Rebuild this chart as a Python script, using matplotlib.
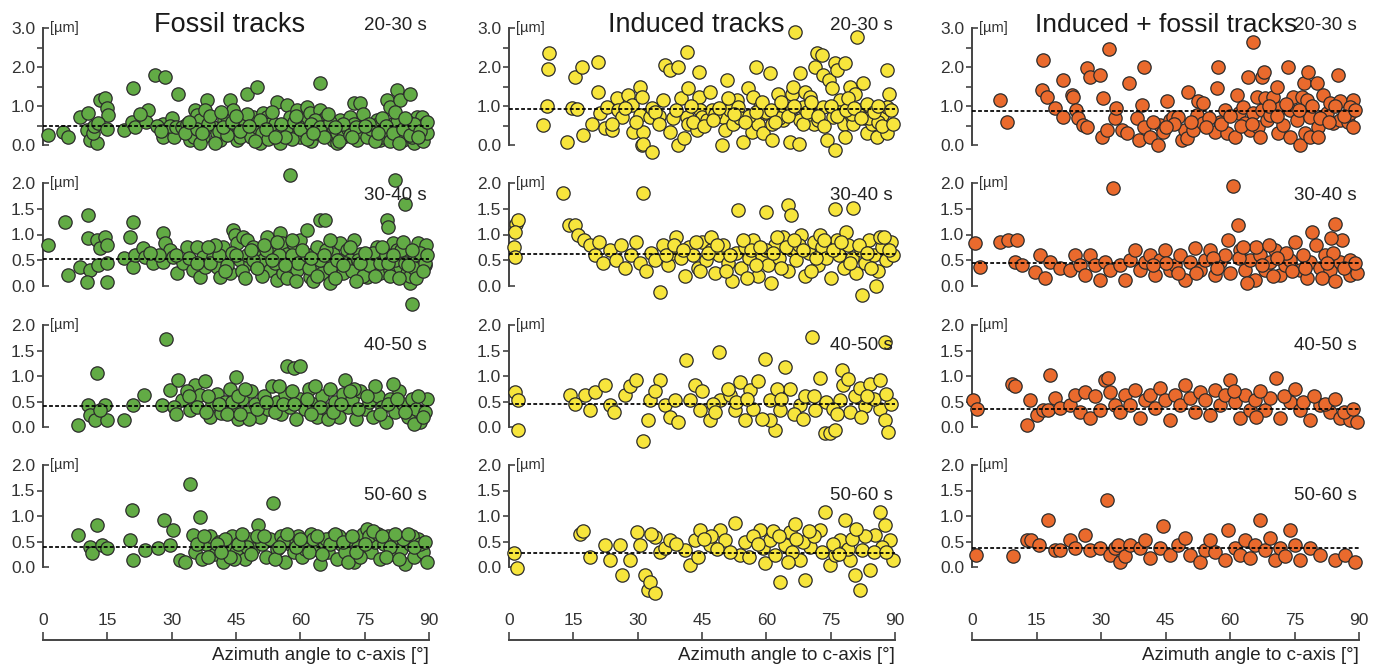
import matplotlib
matplotlib.use("Agg")
import matplotlib.pyplot as plt
from matplotlib.ticker import FixedLocator, FixedFormatter

plt.rcParams['font.family'] = ['Liberation Sans', 'DejaVu Sans']

# ---------------- data (azimuth angle [deg], etch length [um]) ----------------
fossil_2030_x = [1.2, 4.7, 5.8, 8.6, 10.6, 10.2, 11.0, 12.5, 11.7, 12.0, 13.3, 14.5, 14.9, 15.2, 12.8, 14.9, 19.0, 21.0, 20.8, 21.5,
                 23.0, 24.5, 24.0, 22.5, 26.0, 28.5, 28.0, 28.0, 30.0, 30.5, 31.5, 29.5, 26.5, 27.5, 31.0,
                 32.3, 33.5, 34.3, 35.1, 35.4, 35.8, 36.6, 38.2, 37.8, 37.4, 36.6, 39.7, 40.5, 41.3, 42.1, 42.8, 43.6, 44.4, 44.4, 45.2,
                 46.0, 47.5, 46.7, 47.9, 49.0, 49.8, 50.6, 51.4, 52.2, 53.0, 53.7, 54.5, 55.3, 56.0, 56.8, 57.6, 58.4, 59.2, 60.0, 60.7,
                 61.5, 62.3, 63.0, 64.6, 64.6, 65.0, 66.1, 66.9, 67.7, 68.5, 69.3, 70.8, 71.6, 72.4, 73.9, 73.1, 74.7, 75.5, 77.0, 77.8,
                 78.6, 79.4, 80.1, 80.9, 81.7, 82.5, 83.2, 84.0, 84.8, 85.6, 86.4, 87.1, 87.9, 87.9, 88.3,
                 33.0, 36.0, 38.5, 41.0, 43.0, 45.5, 47.0, 48.5, 50.0, 51.0, 52.5, 54.0, 55.0, 57.0, 58.0, 59.5, 61.0, 62.5, 63.5, 64.0,
                 66.0, 67.5, 68.5, 70.0, 71.0, 72.5, 74.0, 75.5, 76.5, 78.0, 79.0, 80.5, 81.0, 82.5, 83.5, 85.0, 86.0, 87.0, 88.5, 89.0, 89.5,
                 34.0, 37.0, 39.0, 40.0, 42.0, 44.0, 46.0, 47.5, 49.5, 50.5, 52.0, 53.5, 55.5, 56.5, 58.5, 60.0, 61.5, 62.5, 64.5, 65.5,
                 67.0, 69.0, 70.0, 71.5, 73.0, 74.5, 76.0, 77.5, 79.0, 80.0, 81.5, 83.0, 84.0, 85.5, 86.5, 88.0, 89.5, 41.5, 45.0, 48.0,
                 54.0, 59.0, 63.0, 66.5, 68.0, 72.0, 75.0, 78.0, 82.0, 84.5, 87.5]
fossil_2030_y = [0.26, 0.33, 0.21, 0.72, 0.82, 0.38, 0.12, 0.05, 0.30, 0.50, 1.15, 1.20, 0.95, 0.78, 0.56, 0.42, 0.38, 1.45, 0.60, 0.45,
                 0.75, 0.90, 0.60, 0.80, 1.80, 1.75, 0.55, 0.20, 0.70, 0.20, 1.30, 0.50, 0.50, 0.35, 0.45,
                 0.47, 0.55, 0.13, 0.21, 0.90, 0.77, 0.64, 1.15, 0.90, 0.21, 0.04, 0.47, 0.30, 0.13, 0.64, 0.73, 1.15, 0.90, 0.47, 0.13,
                 0.21, 1.32, 0.47, 0.38, 0.73, 1.50, 0.04, 0.81, 0.73, 0.55, 0.38, 1.10, 0.04, 0.38, 1.03, 0.73, 0.47, 0.90, 0.21, 0.64,
                 0.98, 0.81, 0.47, 1.58, 0.90, 0.64, 0.73, 0.30, 0.13, 0.04, 0.64, 0.47, 0.73, 1.07, 1.07, 0.13, 0.64, 0.47, 0.30, 0.64,
                 0.13, 0.38, 1.15, 0.98, 0.55, 1.41, 1.15, 0.13, 0.47, 1.32, 0.04, 0.73, 0.30, 0.47, 0.73,
                 0.30, 0.40, 0.55, 0.35, 0.25, 0.50, 0.60, 0.20, 0.45, 0.30, 0.15, 0.55, 0.25, 0.45, 0.15, 0.50, 0.35, 0.10, 0.65, 0.30,
                 0.50, 0.45, 0.30, 0.20, 0.40, 0.55, 0.35, 0.20, 0.40, 0.55, 0.20, 0.35, 0.10, 0.60, 0.20, 0.60, 0.20, 0.50, 0.10, 0.55, 0.30,
                 0.60, 0.30, 0.75, 0.05, 0.45, 0.60, 0.35, 0.80, 0.10, 0.65, 0.40, 0.85, 0.55, 0.20, 0.60, 0.40, 0.15, 0.55, 0.45, 0.20,
                 0.60, 0.10, 0.55, 0.25, 0.45, 0.80, 0.55, 0.10, 0.70, 0.50, 0.30, 0.05, 0.40, 0.25, 0.55, 0.35, 0.60, 0.85, 0.75, 0.50,
                 0.20, 0.75, 0.30, 0.80, 0.45, 0.20, 0.50, 0.30, 0.85, 0.70, 0.20]

fossil_3040_x = [1.2, 5.1, 5.9, 8.6, 10.5, 10.5, 11.0, 10.2, 12.5, 13.3, 14.5, 14.9, 12.9, 14.9, 14.9, 19.0, 20.3, 21.0, 21.0, 21.5,
                 23.3, 23.8, 25.7, 28.0, 28.5, 28.0, 29.6, 30.3, 31.2, 32.7, 33.6, 35.0, 35.9, 36.6, 37.3, 37.8,
                 39.7, 40.5, 41.3, 42.0, 43.6, 44.4, 44.8, 45.2, 46.0, 46.7, 47.5, 48.3, 49.0, 49.8, 50.6, 51.4, 52.2, 53.0, 53.7, 54.5,
                 55.3, 55.7, 56.0, 56.8, 57.6, 57.6, 58.4, 59.2, 60.0, 60.7, 61.5, 62.3, 63.0, 63.4, 63.8, 64.6, 65.8, 65.0, 66.1, 66.9,
                 67.7, 68.5, 69.3, 70.0, 70.8, 71.6, 72.4, 73.1, 73.9, 75.5, 76.2, 77.0, 77.8, 78.6, 79.4, 80.1, 80.5, 80.9, 81.7, 82.1,
                 82.5, 83.2, 84.0, 84.4, 84.8, 85.6, 86.0, 86.4, 87.1, 87.5, 87.9, 89.2, 89.0,
                 39.0, 41.0, 43.0, 44.0, 46.5, 47.5, 49.0, 51.0, 52.0, 54.0, 55.0, 57.0, 58.0, 59.5, 61.5, 62.0, 63.0, 64.5, 66.0, 67.0,
                 68.0, 69.0, 70.5, 72.0, 73.5, 74.5, 76.0, 77.0, 78.5, 80.0, 81.0, 82.0, 83.5, 84.5, 85.5, 86.5, 88.0, 89.0,
                 40.0, 42.5, 45.0, 47.0, 48.5, 50.0, 51.5, 53.5, 54.5, 56.5, 58.0, 59.0, 60.5, 62.5, 64.0, 65.5, 67.0, 68.5, 70.0, 71.5,
                 73.0, 74.0, 75.0, 77.5, 79.0, 80.5, 81.5, 83.0, 84.0, 85.0, 86.0, 87.0, 88.5, 89.5, 31.0, 34.0, 36.0, 38.5, 27.0, 25.0]
fossil_3040_y = [0.80, 1.24, 0.21, 0.37, 1.38, 0.93, 0.31, 0.08, 0.89, 0.74, 0.95, 0.80, 0.41, 0.45, 0.08, 0.54, 0.95, 1.24, 0.37, 0.60,
                 0.74, 0.56, 0.45, 1.03, 0.84, 0.47, 0.70, 0.56, 0.25, 0.45, 0.76, 0.31, 0.76, 0.17, 0.56, 0.37,
                 0.57, 0.37, 0.18, 0.76, 0.25, 1.09, 0.99, 0.83, 0.50, 0.96, 0.89, 0.44, 0.76, 0.37, 0.57, 0.50, 0.96, 0.31, 0.63, 0.12,
                 1.02, 0.83, 0.25, 0.63, 0.37, 2.16, 0.83, 0.31, 0.89, 0.50, 1.09, 0.18, 0.63, 0.37, 0.76, 1.28, 1.28, 0.25, 0.50, 0.05,
                 0.63, 0.37, 0.83, 0.25, 0.70, 0.50, 0.89, 0.31, 0.63, 0.18, 0.57, 0.50, 0.76, 0.25, 0.57, 1.28, 1.15, 0.31, 0.83, 2.06,
                 0.70, 0.37, 0.63, 1.60, 0.25, 0.05, -0.34, 0.63, 0.50, 0.83, 0.37, 0.80, 0.40,
                 0.45, 0.60, 0.40, 0.65, 0.30, 0.60, 0.50, 0.20, 0.70, 0.45, 0.60, 0.15, 0.60, 0.45, 0.60, 0.35, 0.10, 0.50, 0.70, 0.35,
                 0.15, 0.50, 0.45, 0.30, 0.50, 0.20, 0.40, 0.65, 0.45, 0.60, 0.20, 0.50, 0.70, 0.45, 0.20, 0.35, 0.65, 0.45,
                 0.80, 0.30, 0.60, 0.15, 0.70, 0.35, 0.80, 0.50, 0.85, 0.40, 0.90, 0.10, 0.70, 0.55, 0.20, 0.60, 0.90, 0.50, 0.40, 0.75,
                 0.10, 0.45, 0.65, 0.20, 0.75, 0.45, 0.60, 0.15, 0.85, 0.40, 0.70, 0.15, 0.30, 0.60, 0.60, 0.55, 0.45, 0.75, 0.60, 0.65]

fossil_4050_x = [8.2, 10.5, 12.6, 10.9, 12.1, 14.4, 14.9, 13.3, 18.9, 21.0, 23.5, 28.7,
                 27.8, 29.6, 31.5, 32.4, 34.3, 35.5, 36.6, 37.8, 39.0, 39.5, 40.5, 41.5, 42.5, 43.5, 44.5, 45.0, 45.5, 46.5,
                 47.5, 48.5, 49.5, 50.5, 51.5, 52.5, 53.5, 54.5, 55.5, 56.5, 57.0, 57.5, 58.5, 59.0, 60.0, 60.0, 61.0, 62.0, 63.0, 64.0,
                 65.0, 66.0, 67.0, 68.0, 69.0, 70.0, 70.5, 71.0, 72.0, 73.0, 74.0, 75.0, 76.0, 77.0, 78.0, 79.0, 80.0, 81.0, 82.0, 83.0,
                 84.0, 85.0, 86.0, 87.0, 88.0, 89.0, 89.5, 30.5, 33.5, 38.5, 44.0, 48.0, 55.0, 58.0, 63.5, 66.5, 72.5, 77.5, 81.5, 86.5,
                 31.0, 34.0, 36.0, 38.0, 41.0, 43.0, 45.5, 47.0, 50.0, 52.0, 54.0, 56.0, 58.5, 61.5, 64.5, 67.5, 69.5, 71.5, 73.5, 75.5,
                 78.5, 80.5, 82.5, 84.5, 87.5, 88.5, 46.0, 62.5]
fossil_4050_y = [0.04, 0.43, 1.05, 0.23, 0.14, 0.43, 0.14, 0.33, 0.14, 0.43, 0.63, 1.72,
                 0.43, 0.72, 0.92, 0.53, 0.33, 0.82, 0.63, 0.90, 0.20, 0.45, 0.65, 0.28, 0.50, 0.75, 0.35, 0.98, 0.15, 0.55,
                 0.30, 0.70, 0.45, 0.20, 0.60, 0.35, 0.80, 0.50, 0.25, 0.65, 1.20, 0.40, 1.15, 0.15, 1.20, 0.55, 0.35, 0.75, 0.45, 0.20,
                 0.60, 0.35, 0.75, 0.50, 0.20, 0.65, 0.92, 0.40, 0.55, 0.15, 0.70, 0.35, 0.50, 0.20, 0.60, 0.40, 0.10, 0.55, 0.30, 0.70,
                 0.45, 0.20, 0.55, 0.35, 0.10, 0.30, 0.55, 0.40, 0.70, 0.60, 0.50, 0.15, 0.80, 0.70, 0.80, 0.15, 0.75, 0.80, 0.85, 0.05,
                 0.25, 0.60, 0.40, 0.30, 0.45, 0.25, 0.60, 0.75, 0.35, 0.50, 0.30, 0.45, 0.45, 0.55, 0.40, 0.30, 0.45, 0.70, 0.35, 0.60,
                 0.25, 0.45, 0.55, 0.30, 0.60, 0.20, 0.25, 0.25]

fossil_5060_x = [8.2, 10.9, 11.4, 12.6, 13.8, 15.0, 20.8, 20.3, 21.0, 23.8, 26.8, 28.2, 29.6, 30.3, 31.9, 33.0, 34.3, 35.0, 36.6, 35.5,
                 37.0, 38.0, 39.0, 40.0, 41.0, 42.0, 43.0, 44.0, 45.0, 46.0, 47.0, 48.0, 49.0, 50.1, 51.0, 52.0, 53.6, 53.0, 54.5, 55.5,
                 56.5, 57.5, 58.5, 59.5, 60.5, 61.5, 62.5, 63.5, 64.5, 65.5, 66.5, 67.5, 68.5, 69.5, 70.5, 71.5, 72.5, 73.5, 74.5, 75.5,
                 76.5, 77.5, 78.5, 79.5, 80.5, 81.5, 82.5, 83.5, 84.5, 85.5, 86.5, 87.5, 88.5, 89.5, 38.5, 44.5, 50.0, 56.0, 61.0, 66.0,
                 71.0, 76.0, 81.0, 86.0, 36.0, 42.5, 47.5, 63.0, 69.0, 74.0, 78.0, 84.0, 88.0,
                 37.5, 40.5, 43.5, 45.5, 48.5, 51.5, 54.0, 57.0, 59.0, 62.0, 64.0, 67.0, 68.0, 70.0, 72.0, 73.0, 75.0, 77.0, 79.0, 80.0,
                 82.0, 83.0, 85.0, 86.5, 89.0, 60.0, 65.0, 55.0, 46.5, 41.5]
fossil_5060_y = [0.63, 0.39, 0.27, 0.82, 0.43, 0.37, 1.12, 0.53, 0.14, 0.33, 0.37, 0.92, 0.43, 0.73, 0.14, 0.10, 1.63, 0.63, 0.98, 0.30,
                 0.15, 0.45, 0.60, 0.25, 0.50, 0.10, 0.40, 0.60, 0.30, 0.50, 0.15, 0.55, 0.35, 0.82, 0.45, 0.20, 1.25, 0.55, 0.35, 0.60,
                 0.10, 0.45, 0.30, 0.60, 0.20, 0.50, 0.65, 0.35, 0.05, 0.50, 0.30, 0.60, 0.15, 0.45, 0.30, 0.55, 0.10, 0.40, 0.65, 0.75,
                 0.30, 0.50, 0.15, 0.45, 0.60, 0.25, 0.50, 0.35, 0.05, 0.45, 0.20, 0.55, 0.30, 0.10, 0.20, 0.15, 0.60, 0.50, 0.35, 0.55,
                 0.10, 0.60, 0.40, 0.60, 0.45, 0.55, 0.40, 0.55, 0.60, 0.20, 0.65, 0.55, 0.45,
                 0.60, 0.45, 0.20, 0.45, 0.25, 0.60, 0.15, 0.65, 0.40, 0.30, 0.60, 0.45, 0.65, 0.50, 0.60, 0.30, 0.45, 0.70, 0.60, 0.20,
                 0.65, 0.15, 0.65, 0.40, 0.50, 0.55, 0.25, 0.40, 0.65, 0.30]

induced_2030_x = [7.9, 9.3, 9.2, 8.9, 13.5, 14.6, 15.9, 15.4, 17.0, 17.3, 19.3, 20.7, 20.7, 21.2, 22.4, 22.8, 23.9, 25.1, 25.5, 26.3,
                  27.8, 28.6, 29.0, 30.6, 30.9, 30.6, 31.3, 30.9, 31.3, 33.3, 32.9, 33.3, 36.0, 36.4, 37.5, 39.5, 37.5, 38.3, 39.5, 40.7,
                  40.0, 41.4, 41.8, 41.4, 41.8, 43.8, 44.2, 44.5, 44.2, 44.9, 46.1, 46.9, 47.3, 49.6, 50.0, 50.4, 50.8, 50.8, 51.5, 52.3,
                  53.1, 53.5, 53.9, 54.6, 55.8, 56.6, 57.0, 57.6, 58.1, 58.5, 59.3, 59.7, 60.9, 61.3, 61.3, 62.4, 62.8, 64.0, 64.4, 65.5,
                  65.9, 66.3, 66.8, 67.5, 67.9, 67.9, 68.6, 69.0, 70.2, 71.0, 71.4, 71.8, 72.9, 73.3, 73.3, 74.1, 74.5, 75.2, 75.6, 76.0,
                  76.0, 76.4, 77.2, 78.0, 78.4, 78.4, 79.5, 79.9, 80.3, 80.7, 81.2, 81.5, 82.6, 83.0, 83.4, 84.2, 84.6, 85.7, 86.9, 88.1,
                  88.5, 88.1, 88.1, 48.0, 56.0, 60.0, 63.0, 66.0, 70.0, 72.0, 77.0, 80.0, 84.0, 86.0, 35.0, 43.0,
                  24.0, 27.0, 29.5, 34.0, 35.0, 39.0, 42.5, 45.5, 47.5, 49.0, 51.0, 52.5, 55.0, 57.5, 59.0, 61.0, 62.0, 63.5, 65.0, 66.5,
                  68.5, 69.5, 70.5, 72.0, 73.5, 75.0, 76.5, 78.5, 79.0, 80.5, 82.0, 83.5, 85.0, 86.0, 87.0, 89.0, 89.5]
induced_2030_y = [0.51, 2.37, 1.94, 1.00, 0.08, 0.96, 0.93, 1.75, 2.00, 0.26, 0.55, 2.14, 1.37, 0.81, 0.43, 0.98, 0.39, 1.20, 0.90, 0.73,
                  1.28, 1.03, 0.33, 1.49, 1.24, 0.76, 0.33, 0.00, 0.03, -0.17, 0.73, 0.94, 1.15, 2.05, 1.92, 2.00, 0.33, 0.68, 0.00, 0.17,
                  1.20, 2.39, 1.45, 0.73, 0.55, 0.39, 1.24, 0.90, 1.88, 0.73, 0.64, 1.37, 0.90, 0.00, 0.73, 0.39, 1.66, 0.98, 0.90, 0.55,
                  1.15, 0.98, 0.68, 0.08, 1.45, 0.33, 1.24, 2.00, 0.55, 0.98, 0.30, 0.81, 1.84, 0.12, 0.55, 0.90, 1.32, 0.64, 0.94, 0.08,
                  1.32, 1.49, 2.90, 0.03, 0.64, 1.84, 0.98, 1.37, 1.24, 0.55, 2.00, 2.35, 2.30, 0.98, 1.79, 0.12, 1.66, 1.45, 0.73, -0.14,
                  2.10, 1.92, 1.15, 0.55, 2.10, 0.21, 1.49, 0.73, 0.55, 1.32, 2.78, 0.90, 1.58, 0.68, 0.30, 0.98, 0.55, 0.21, 0.76, 1.92,
                  1.32, 0.30, 0.98, 0.80, 0.75, 0.85, 0.70, 0.95, 0.80, 0.65, 0.85, 0.80, 0.70, 0.60, 0.75, 0.60,
                  0.55, 0.95, 0.60, 0.85, 0.55, 0.90, 1.00, 0.50, 0.65, 0.95, 1.20, 0.80, 0.60, 0.85, 1.10, 0.90, 0.60, 1.10, 0.75, 1.00,
                  0.55, 0.85, 1.10, 0.75, 0.50, 1.00, 0.75, 0.90, 1.20, 0.95, 0.70, 1.05, 0.85, 1.00, 0.50, 0.90, 0.55]

induced_3040_x = [1.6, 2.2, 1.4, 1.2, 1.4, 12.6, 14.0, 15.5, 16.0, 17.5, 19.0, 20.0, 21.0, 22.0, 23.5, 25.0, 26.0, 27.0, 28.5, 29.5,
                  30.5, 31.2, 32.0, 33.0, 34.0, 35.2, 36.0, 37.0, 38.0, 39.0, 40.0, 41.0, 42.0, 43.0, 44.0, 45.0, 46.0, 47.0, 48.0, 49.0,
                  50.0, 51.0, 52.0, 53.4, 53.0, 54.0, 55.0, 56.0, 57.0, 58.0, 59.0, 59.9, 60.5, 61.0, 62.0, 63.0, 64.0, 65.1, 65.8, 65.0,
                  66.0, 67.0, 68.0, 69.0, 70.0, 71.0, 72.0, 73.0, 74.0, 75.0, 76.0, 76.5, 77.0, 78.0, 79.0, 80.2, 80.0, 81.0, 82.0, 82.3,
                  83.0, 84.0, 85.0, 86.0, 87.0, 88.0, 89.0, 89.5, 44.5, 57.5, 62.5, 67.5, 72.5, 78.5, 85.5, 60.0, 47.0, 36.5, 50.5, 55.5,
                  70.5, 86.5,
                  38.5, 40.5, 43.5, 46.5, 48.5, 51.5, 54.5, 56.5, 58.5, 61.5, 63.5, 64.5, 66.5, 68.5, 71.5, 73.5, 75.5, 77.5, 79.5, 81.5,
                  83.5, 84.5, 87.5, 88.5]
induced_3040_y = [1.20, 1.28, 1.05, 0.75, 0.56, 1.80, 1.18, 1.18, 1.00, 0.90, 0.80, 0.60, 0.85, 0.45, 0.70, 0.50, 0.80, 0.35, 0.60, 0.85,
                  0.45, 1.80, 0.30, 0.65, 0.50, -0.12, 0.80, 0.40, 0.65, 0.95, 0.55, 0.20, 0.75, 0.60, 0.35, 0.85, 0.50, 0.70, 0.25, 0.60,
                  0.80, 0.45, 0.10, 1.48, 0.65, 0.35, 0.75, 0.55, 0.90, 0.20, 0.60, 1.44, 0.40, 0.05, 0.80, 0.55, 0.95, 1.57, 1.38, 0.30,
                  0.70, 0.50, 1.00, 0.20, 0.65, 0.85, 0.40, 0.75, 0.55, 0.15, 1.50, 0.90, 0.60, 0.35, 0.80, 1.52, 0.55, 0.25, 0.70, -0.17,
                  0.45, 0.90, 0.60, 0.30, 0.75, 0.50, 0.85, 0.60, 0.30, 0.40, 0.95, 0.80, 1.00, 1.05, 0.00, 0.70, 0.95, 0.60, 0.30, 0.15,
                  0.30, 0.95,
                  0.80, 0.70, 0.85, 0.65, 0.80, 0.60, 0.90, 0.70, 0.75, 0.65, 0.35, 0.75, 0.90, 0.70, 0.55, 0.90, 0.70, 0.85, 0.45, 0.80,
                  0.65, 0.35, 0.95, 0.70]

induced_4050_x = [1.4, 2.1, 2.1, 14.2, 15.4, 17.7, 18.9, 20.1, 22.4, 23.6, 27.1, 28.2, 29.6, 31.2, 32.4, 32.9, 35.2, 36.4, 37.5, 38.7,
                  41.3, 42.2, 43.4, 44.5, 46.9, 49.0, 49.2, 51.5, 52.7, 53.9, 55.0, 56.2, 59.7, 60.9, 62.0, 63.2, 64.4, 60.9, 65.5, 67.9,
                  70.7, 71.4, 72.5, 73.7, 74.9, 76.0, 77.2, 77.7, 77.9, 79.5, 80.7, 81.9, 83.0, 84.2, 86.5, 87.7, 86.5, 87.7, 88.4,
                  45.0, 47.5, 53.0, 57.0, 58.0, 62.5, 66.5, 69.0, 74.0, 75.5, 79.0, 82.0, 85.0, 89.0, 24.5, 39.5, 34.0,
                  48.0, 51.0, 55.5, 59.0, 63.5, 68.5, 71.0, 76.5, 83.5, 88.0]
induced_4050_y = [0.69, 0.53, -0.06, 0.63, 0.45, 0.63, 0.33, 0.69, 0.82, 0.43, 0.63, 0.80, 0.92, -0.27, 0.14, 0.53, 0.92, 0.43, 0.20, 0.53,
                  1.31, 0.53, 0.82, 0.33, 0.14, 1.47, 0.53, 0.63, 0.33, 0.88, 0.14, 0.73, 1.33, 0.53, -0.06, 0.33, 1.18, 0.14, 0.75, 0.43,
                  1.76, 0.33, 0.96, -0.12, -0.12, -0.06, 0.53, 1.12, 0.82, 0.29, 0.61, 0.76, 0.41, 0.84, 0.35, 1.67, 0.92, 0.14, -0.10,
                  0.70, 0.45, 0.50, 0.35, 0.90, 0.75, 0.25, 0.60, 0.50, 0.35, 0.95, 0.20, 0.55, 0.45, 0.30, 0.10, 0.70,
                  0.30, 0.75, 0.55, 0.15, 0.55, 0.15, 0.60, 0.25, 0.60, 0.65]

induced_5060_x = [1.2, 1.9, 16.6, 17.3, 18.9, 22.4, 23.6, 25.9, 26.4, 28.2, 29.8, 30.5, 31.7, 32.4, 32.9, 34.0, 34.0, 35.2, 36.4, 37.5,
                  41.0, 42.2, 43.4, 44.5, 46.9, 49.2, 50.4, 52.7, 53.9, 58.5, 59.2, 59.7, 60.9, 62.0, 63.2, 64.4, 65.5, 66.7, 67.9, 69.0,
                  70.2, 72.5, 73.7, 74.9, 76.0, 77.2, 78.4, 79.5, 80.7, 81.9, 82.3, 84.2, 85.3, 86.5, 87.7, 88.8, 89.5,
                  44.0, 47.0, 55.0, 57.0, 61.5, 66.0, 68.5, 71.0, 75.5, 79.0, 83.0, 87.0, 39.0, 33.0,
                  45.5, 48.5, 51.5, 56.0, 58.0, 63.0, 65.0, 67.0, 70.0, 73.0, 77.0, 80.0, 81.0, 85.0, 88.0]
induced_5060_y = [0.27, -0.02, 0.65, 0.71, 0.20, 0.43, 0.14, 0.43, -0.16, 0.14, 0.69, 0.43, -0.16, -0.45, -0.29, -0.51, 0.59, 0.29, 0.37, 0.53,
                  0.33, 0.04, 0.53, 0.73, 0.43, 0.73, 0.53, 0.86, 0.24, 0.73, 0.37, 0.08, 0.53, 0.24, -0.29, 0.43, 0.69, 0.84, 0.14, -0.25,
                  0.39, 0.73, 1.08, 0.04, 0.24, 0.53, 0.92, 0.14, -0.16, -0.45, 0.33, -0.06, 0.63, 1.08, 0.82, 0.53, 0.14,
                  0.20, 0.60, 0.50, 0.60, 0.70, 0.30, 0.50, 0.60, 0.45, 0.35, 0.60, 0.40, 0.45, 0.65,
                  0.55, 0.35, 0.30, 0.20, 0.45, 0.60, 0.10, 0.55, 0.70, 0.30, 0.25, 0.55, 0.75, 0.30, 0.30]

both_2030_x = [6.4, 8.1, 16.6, 16.2, 17.4, 19.3, 21.2, 21.1, 23.2, 23.6, 24.3, 24.7, 25.9, 26.7, 26.7, 27.4, 29.8, 30.5, 30.2, 31.3,
               31.9, 33.3, 33.6, 34.8, 36.0, 36.5, 38.3, 38.9, 39.5, 39.9, 39.9, 41.4, 43.3, 43.7, 44.5, 45.3, 46.0, 46.8, 48.0, 48.8,
               49.5, 49.9, 50.3, 51.5, 52.3, 52.6, 53.8, 53.8, 56.5, 56.9, 57.3, 57.7, 58.8, 59.2, 61.2, 61.6, 62.0, 63.1, 63.5, 64.3,
               64.7, 65.4, 65.4, 66.2, 66.6, 67.0, 67.4, 67.4, 67.8, 68.2, 68.5, 69.3, 70.1, 70.9, 71.2, 71.6, 72.4, 73.6, 74.0, 74.0,
               74.7, 75.5, 76.3, 76.7, 77.1, 77.4, 77.8, 78.2, 78.6, 78.6, 80.2, 80.5, 80.5, 81.7, 82.5, 83.3, 84.0, 85.2, 85.6, 85.6,
               87.5, 87.9, 88.7, 88.7, 87.9,
               42.0, 47.0, 51.0, 55.0, 58.0, 60.0, 62.5, 65.0, 69.0, 71.0, 73.0, 76.0, 79.0, 81.0, 83.0, 84.5, 86.5, 89.0, 54.5, 45.0]
both_2030_y = [1.15, 0.60, 2.18, 1.41, 1.24, 0.94, 1.67, 0.73, 1.28, 1.24, 0.90, 0.68, 0.51, 0.47, 1.97, 1.75, 1.79, 1.20, 0.20, 0.38,
               2.46, 0.68, 0.94, 0.38, 0.30, 1.58, 0.68, 0.13, 1.03, 2.00, 0.47, 0.21, 0.00, 0.51, 0.34, 1.12, 0.64, 0.73, 0.73, 0.13,
               0.38, 0.17, 1.37, 0.38, 0.77, 1.12, 1.07, 0.56, 0.34, 1.45, 2.00, 0.60, 0.90, 0.30, 0.21, 1.28, 0.81, 0.98, 0.56, 1.75,
               0.38, 0.81, 2.65, 1.24, 0.47, 0.21, 1.75, 0.90, 1.88, 1.20, 0.64, 0.77, 1.24, 1.50, 0.30, 0.94, 0.51, 2.00, 0.90, 0.21,
               1.24, 0.64, 0.00, 1.24, 1.58, 0.30, 1.15, 1.88, 0.73, 0.21, 1.58, 0.47, 0.21, 1.28, 0.81, 1.07, 0.56, 1.79, 1.12, 0.64,
               0.60, 0.81, 1.15, 0.47, 0.98,
               0.60, 0.55, 0.60, 0.70, 0.55, 0.75, 0.50, 0.55, 1.00, 0.75, 1.05, 0.90, 1.00, 0.70, 0.60, 1.00, 0.75, 0.90, 0.45, 0.45]

both_3040_x = [0.8, 1.9, 6.5, 8.4, 10.5, 10.0, 11.6, 14.7, 15.8, 17.0, 18.1, 20.5, 22.8, 24.0, 25.1, 26.3, 27.4, 28.6, 29.8, 30.9,
               32.1, 32.8, 34.4, 35.6, 36.8, 37.9, 39.1, 40.2, 41.4, 42.6, 43.7, 44.9, 46.1, 47.2, 48.4, 49.5, 50.7, 51.9, 53.0, 54.2,
               55.4, 56.5, 57.7, 58.8, 59.5, 60.7, 61.9, 62.3, 63.5, 64.7, 65.8, 67.0, 68.2, 69.3, 70.5, 71.6, 72.8, 74.0, 76.3, 78.6,
               80.9, 83.3, 85.6, 87.9, 66.0, 69.0, 73.0, 75.0, 77.0, 79.0, 80.0, 82.0, 84.0, 86.0, 88.0, 89.5, 70.0, 78.0, 81.5, 84.5,
               62.0, 64.0, 52.0, 45.0, 56.0,
               57.0, 60.0, 63.0, 67.5, 71.0, 74.5, 77.5, 82.5, 84.4, 83.5, 86.5, 89.0, 48.0, 42.0]
both_3040_y = [0.83, 0.37, 0.85, 0.89, 0.89, 0.47, 0.41, 0.27, 0.60, 0.16, 0.47, 0.35, 0.31, 0.60, 0.41, 0.21, 0.60, 0.41, 0.12, 0.47,
               0.31, 1.90, 0.41, 0.12, 0.50, 0.70, 0.31, 0.47, 0.60, 0.21, 0.50, 0.70, 0.31, 0.41, 0.60, 0.12, 0.47, 0.74, 0.31, 0.50,
               0.70, 0.21, 0.47, 0.60, 0.89, 1.94, 1.18, 0.70, 0.31, 0.50, 0.12, 0.60, 0.31, 0.47, 0.70, 0.21, 0.41, 0.50, 0.31, 0.47,
               0.35, 0.31, 0.47, 0.21, 0.75, 0.80, 0.65, 0.85, 0.60, 1.05, 0.80, 0.60, 0.65, 0.90, 0.50, 0.25, 0.20, 0.15, 0.15, 0.10,
               0.55, 0.05, 0.25, 0.45, 0.55,
               0.35, 0.25, 0.75, 0.40, 0.55, 0.30, 0.35, 0.45, 1.20, 0.93, 0.35, 0.45, 0.25, 0.40]

both_4050_x = [0.3, 1.2, 9.3, 10.0, 12.8, 13.5, 15.1, 16.5, 17.7, 18.1, 19.3, 20.5, 22.8, 24.0, 25.1, 26.3, 27.4, 28.6, 29.8, 30.9,
               31.6, 32.1, 33.3, 34.4, 35.6, 36.8, 37.9, 39.1, 40.2, 41.4, 42.6, 43.7, 44.9, 46.1, 47.2, 48.4, 49.5, 50.7, 51.9, 53.0,
               54.2, 55.4, 56.5, 57.7, 58.8, 60.0, 61.2, 62.3, 63.5, 64.7, 65.8, 68.2, 69.3, 70.7, 71.6, 74.0, 76.3, 78.6, 80.9, 83.3,
               85.6, 87.9, 67.0, 72.5, 75.0, 77.0, 79.5, 82.0, 84.5, 86.5, 88.5, 89.5, 66.0, 61.0]
both_4050_y = [0.53, 0.35, 0.84, 0.80, 0.04, 0.53, 0.24, 0.33, 0.33, 1.02, 0.57, 0.37, 0.43, 0.63, 0.29, 0.69, 0.18, 0.61, 0.33, 0.92,
               0.96, 0.69, 0.43, 0.29, 0.63, 0.43, 0.73, 0.18, 0.53, 0.63, 0.37, 0.76, 0.53, 0.14, 0.63, 0.43, 0.82, 0.57, 0.29, 0.69,
               0.53, 0.24, 0.73, 0.43, 0.63, 0.92, 0.49, 0.18, 0.63, 0.33, 0.53, 0.33, 0.57, 0.96, 0.18, 0.49, 0.33, 0.14, 0.43, 0.29,
               0.18, 0.14, 0.70, 0.60, 0.75, 0.50, 0.60, 0.45, 0.55, 0.30, 0.35, 0.10, 0.20, 0.70]

both_5060_x = [1.0, 9.5, 12.8, 13.7, 15.6, 17.7, 19.3, 20.5, 22.8, 24.0, 26.3, 27.4, 29.8, 31.4, 32.1, 33.3, 34.0, 34.4, 35.6, 36.8,
               39.1, 40.2, 41.4, 43.7, 44.4, 46.1, 47.9, 49.5, 50.7, 53.0, 54.2, 55.4, 56.5, 58.8, 59.5, 61.2, 62.3, 63.5, 64.7, 65.8,
               67.0, 68.2, 69.3, 70.5, 71.6, 72.8, 74.0, 75.1, 76.3, 78.6, 80.9, 84.4, 86.8, 89.1]
both_5060_y = [0.24, 0.22, 0.53, 0.53, 0.43, 0.92, 0.33, 0.33, 0.53, 0.37, 0.63, 0.33, 0.37, 1.31, 0.24, 0.37, 0.43, 0.10, 0.22, 0.43,
               0.37, 0.53, 0.18, 0.37, 0.80, 0.24, 0.43, 0.57, 0.24, 0.10, 0.33, 0.53, 0.29, 0.14, 0.73, 0.37, 0.24, 0.53, 0.18, 0.43,
               0.92, 0.33, 0.57, 0.14, 0.37, 0.22, 0.73, 0.43, 0.14, 0.37, 0.24, 0.14, 0.24, 0.10]

# mean values (dotted lines)
fossil_means = [0.48, 0.52, 0.42, 0.40]
induced_means = [0.92, 0.63, 0.45, 0.28]
both_means = [0.86, 0.45, 0.35, 0.38]

column_titles = ["Fossil tracks", "Induced tracks", "Induced + fossil tracks"]
row_labels = ["20-30 s", "30-40 s", "40-50 s", "50-60 s"]
x_ticks = [0, 15, 30, 45, 60, 75, 90]
x_label = "Azimuth angle to c-axis [°]"
unit_label = "[µm]"

fossil_x = [fossil_2030_x, fossil_3040_x, fossil_4050_x, fossil_5060_x]
fossil_y = [fossil_2030_y, fossil_3040_y, fossil_4050_y, fossil_5060_y]
induced_x = [induced_2030_x, induced_3040_x, induced_4050_x, induced_5060_x]
induced_y = [induced_2030_y, induced_3040_y, induced_4050_y, induced_5060_y]
both_x = [both_2030_x, both_3040_x, both_4050_x, both_5060_x]
both_y = [both_2030_y, both_3040_y, both_4050_y, both_5060_y]

# ---------------- layout ----------------
W, H = 1377, 666
fig = plt.figure(figsize=(W / 100, H / 100), dpi=100)

col_px = [(43, 429), (509, 895), (972, 1359)]          # pixel x of 0 deg and 90 deg
row_px = [(28, 145, 3.0), (183, 286, 2.0), (325, 427, 2.0), (465, 567, 2.0)]  # top, zero, ymax
colors = ["#62ab45", "#f7e53c", "#ea6a2d"]
edge = "#2b2b2b"
axis_col = "#444444"
title_fs = [19.5, 19.5, 19.0]
title_cx = [230, 696, 1166]

columns = [(fossil_x, fossil_y, fossil_means), (induced_x, induced_y, induced_means), (both_x, both_y, both_means)]

for c, (xs, ys, means) in enumerate(columns):
    x0, x90 = col_px[c]
    for r in range(4):
        top, zero, ymax = row_px[r]
        ax = fig.add_axes([x0 / W, 1 - zero / H, (x90 - x0) / W, (zero - top) / H])
        ax.set_xlim(0, 90)
        ax.set_ylim(0, ymax)
        ax.patch.set_alpha(0)
        for s in ["top", "right", "bottom"]:
            ax.spines[s].set_visible(False)
        ax.spines["left"].set_color(axis_col)
        ax.spines["left"].set_linewidth(1.4)
        ax.set_xticks([])
        if ymax == 3.0:
            mids = [0.5, 1.0, 1.5, 2.0, 2.5]
            mid_lab = ["", "1.0", "", "2.0", ""]
        else:
            mids = [0.5, 1.0, 1.5]
            mid_lab = ["0.5", "1.0", "1.5"]
        ax.yaxis.set_major_locator(FixedLocator(mids))
        ax.yaxis.set_major_formatter(FixedFormatter(mid_lab))
        ax.yaxis.set_minor_locator(FixedLocator([0.0, ymax]))
        ax.yaxis.set_minor_formatter(FixedFormatter(["0.0", "%.1f" % ymax]))
        ax.tick_params(axis="y", which="major", direction="out", length=4.5, width=1.2,
                       color=axis_col, labelsize=12.5, labelcolor="#333333", pad=1)
        ax.tick_params(axis="y", which="minor", direction="in", length=4.5, width=1.2,
                       color=axis_col, labelsize=12.5, labelcolor="#333333", pad=5.5)

        ax.scatter(xs[r], ys[r], s=92, facecolor=colors[c], edgecolor=edge,
                   linewidth=0.9, zorder=3, clip_on=False)
        ax.plot([0, 90], [means[r], means[r]], color="black", lw=1.25,
                ls=(0, (2.2, 1.3)), zorder=4, clip_on=False)

        ax.text(0.018, 1.0, unit_label, transform=ax.transAxes, fontsize=10.5,
                color="#333333", ha="left", va="center")
        label_y = [25, 196, 346, 495][r]
        fig.text((x90 - 2) / W, 1 - label_y / H, row_labels[r], ha="right", va="center",
                 fontsize=13.5, color="#222222", zorder=5)

    fig.text(title_cx[c] / W, 1 - 25 / H, column_titles[c], ha="center", va="center",
             fontsize=title_fs[c], color="#1a1a1a", zorder=5)

    # bottom azimuth axis
    bax = fig.add_axes([x0 / W, 1 - 640 / H, (x90 - x0) / W, 11 / H])
    bax.set_xlim(0, 90)
    bax.patch.set_alpha(0)
    for s in ["top", "right", "left"]:
        bax.spines[s].set_visible(False)
    bax.spines["bottom"].set_color(axis_col)
    bax.spines["bottom"].set_linewidth(1.4)
    bax.set_yticks([])
    bax.set_xticks(x_ticks)
    bax.set_xticklabels([str(t) for t in x_ticks])
    bax.tick_params(axis="x", direction="in", length=6, width=1.2, color=axis_col,
                    bottom=True, top=False, labelbottom=False, labeltop=True,
                    labelsize=12.5, labelcolor="#333333", pad=1)
    fig.text(x90 / W, 1 - 655 / H, x_label, ha="right", va="center", fontsize=13.5, color="#222222")

fig.savefig("out.png", dpi=100)
